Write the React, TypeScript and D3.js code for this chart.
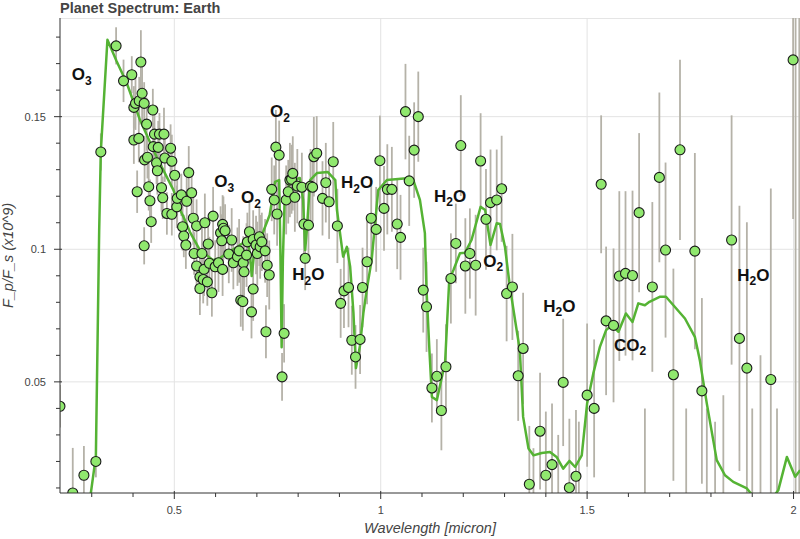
import React from "react";
import * as d3 from "d3";

const WIDTH = 800;
const HEIGHT = 539;
const PLOT = { left: 60, right: 800, top: 18, bottom: 493 };
const X_DOMAIN: [number, number] = [0.2231, 2.0157];
const Y_DOMAIN: [number, number] = [0.0081, 0.1872];

const wavelength = [
  0.223, 0.254, 0.281, 0.310, 0.322, 0.359, 0.377, 0.397, 0.402, 0.402,
  0.406, 0.410, 0.414, 0.415, 0.419, 0.422, 0.427, 0.427, 0.428, 0.433,
  0.435, 0.438, 0.441, 0.444, 0.448, 0.449, 0.452, 0.457, 0.459, 0.461,
  0.464, 0.469, 0.472, 0.475, 0.477, 0.482, 0.491, 0.494, 0.494, 0.501,
  0.506, 0.507, 0.517, 0.520, 0.523, 0.528, 0.530, 0.535, 0.542, 0.546,
  0.548, 0.554, 0.554, 0.562, 0.562, 0.567, 0.570, 0.572, 0.574, 0.580,
  0.582, 0.585, 0.591, 0.594, 0.599, 0.607, 0.612, 0.615, 0.617, 0.617,
  0.619, 0.623, 0.632, 0.639, 0.643, 0.653, 0.657, 0.661, 0.666, 0.667,
  0.669, 0.675, 0.677, 0.682, 0.687, 0.691, 0.691, 0.698, 0.701, 0.706,
  0.708, 0.712, 0.720, 0.722, 0.725, 0.730, 0.736, 0.742, 0.746, 0.749,
  0.754, 0.761, 0.766, 0.771, 0.776, 0.780, 0.784, 0.787, 0.792, 0.798,
  0.809, 0.814, 0.817, 0.825, 0.830, 0.835, 0.838, 0.845, 0.859, 0.867,
  0.875, 0.885, 0.895, 0.903, 0.911, 0.922, 0.930, 0.939, 0.950, 0.956,
  0.967, 0.977, 0.989, 0.998, 1.008, 1.016, 1.027, 1.040, 1.048, 1.060,
  1.069, 1.081, 1.091, 1.103, 1.111, 1.124, 1.136, 1.147, 1.158, 1.170,
  1.182, 1.194, 1.205, 1.216, 1.230, 1.242, 1.255, 1.266, 1.281, 1.293,
  1.305, 1.319, 1.333, 1.345, 1.360, 1.386, 1.400, 1.415, 1.442, 1.457,
  1.473, 1.500, 1.517, 1.534, 1.546, 1.564, 1.578, 1.593, 1.610, 1.626,
  1.658, 1.675, 1.690, 1.709, 1.725, 1.761, 1.778, 1.850, 1.869, 1.887,
  1.945, 1.999, 1.370, 1.430, 1.480, 1.640, 1.740, 1.790, 1.810, 1.830,
  1.900, 1.920, 1.960, 2.005, 2.014,
];

const flux = [
  0.0408, 0.0081, 0.0148, 0.0200, 0.1367, 0.1767, 0.1635, 0.1658, 0.1535, 0.1412,
  0.1550, 0.1217, 0.1418, 0.1560, 0.1706, 0.1588, 0.1550, 0.1013, 0.1337, 0.1472,
  0.1347, 0.1236, 0.1183, 0.1104, 0.1525, 0.1387, 0.1434, 0.1326, 0.1296, 0.1384,
  0.1434, 0.1232, 0.1194, 0.1434, 0.1344, 0.1135, 0.1381, 0.1332, 0.1132, 0.1279,
  0.1160, 0.1192, 0.1205, 0.1085, 0.1050, 0.1016, 0.1181, 0.1289, 0.1213, 0.1117,
  0.0984, 0.1088, 0.0937, 0.0896, 0.0852, 0.0984, 0.0886, 0.0924, 0.1100, 0.0877,
  0.1020, 0.0947, 0.0836, 0.1125, 0.0934, 0.0949, 0.1062, 0.1032, 0.1094, 0.0924,
  0.1079, 0.1070, 0.0982, 0.1035, 0.0949, 0.0972, 0.0994, 0.0808, 0.0803, 0.0949,
  0.0915, 0.0978, 0.1028, 0.1066, 0.0764, 0.1037, 0.0850, 0.1016, 0.0984, 0.1047,
  0.1009, 0.1028, 0.0994, 0.0689, 0.0940, 0.0903, 0.1226, 0.1186, 0.1385, 0.1133,
  0.1355, 0.0519, 0.0683, 0.1186, 0.1217, 0.1261, 0.1264, 0.1286, 0.1196, 0.1238,
  0.1234, 0.1095, 0.0966, 0.1091, 0.1238, 0.1234, 0.1349, 0.1362, 0.1192, 0.1251,
  0.1179, 0.1330, 0.1088, 0.0796, 0.0843, 0.0856, 0.0657, 0.0594, 0.0660, 0.0856,
  0.0953, 0.1117, 0.1075, 0.1334, 0.1154, 0.1226, 0.1226, 0.1095, 0.1045, 0.1519,
  0.1258, 0.1374, 0.1500, 0.0846, 0.0783, 0.0477, 0.0521, 0.0392, 0.0557, 0.0890,
  0.1022, 0.1391, 0.0937, 0.0984, 0.0940, 0.1333, 0.1113, 0.1176, 0.1186, 0.1228,
  0.0833, 0.0858, 0.0523, 0.0626, 0.0114, 0.0314, 0.0148, 0.0188, 0.0498, 0.0101,
  0.0144, 0.0450, 0.0400, 0.1245, 0.0730, 0.0713, 0.0899, 0.0909, 0.0901, 0.1138,
  0.0858, 0.1271, 0.0997, 0.0527, 0.1375, 0.0993, 0.0466, 0.1035, 0.0664, 0.0552,
  0.0509, 0.1714, -0.010, -0.010, -0.005, -0.010, -0.020, -0.010, -0.020, -0.015,
  -0.020, -0.010, -0.020, -0.100, -0.100,
];

const fluxErr = [
  0.008, 0.017, 0.011, 0.006, 0.007, 0.007, 0.008, 0.007, 0.008, 0.009,
  0.010, 0.008, 0.009, 0.009, 0.012, 0.012, 0.008, 0.007, 0.009, 0.010,
  0.008, 0.009, 0.008, 0.008, 0.008, 0.009, 0.010, 0.008, 0.009, 0.010,
  0.008, 0.009, 0.008, 0.010, 0.009, 0.008, 0.009, 0.010, 0.008, 0.009,
  0.008, 0.009, 0.008, 0.009, 0.008, 0.009, 0.009, 0.010, 0.009, 0.010,
  0.008, 0.010, 0.009, 0.009, 0.010, 0.010, 0.009, 0.010, 0.011, 0.009,
  0.010, 0.010, 0.009, 0.011, 0.010, 0.011, 0.010, 0.010, 0.011, 0.010,
  0.012, 0.010, 0.011, 0.012, 0.010, 0.011, 0.012, 0.010, 0.011, 0.010,
  0.011, 0.012, 0.011, 0.012, 0.010, 0.011, 0.012, 0.011, 0.012, 0.011,
  0.012, 0.011, 0.012, 0.010, 0.012, 0.013, 0.012, 0.013, 0.014, 0.012,
  0.013, 0.009, 0.011, 0.013, 0.012, 0.014, 0.013, 0.014, 0.013, 0.014,
  0.013, 0.014, 0.012, 0.013, 0.014, 0.013, 0.015, 0.014, 0.014, 0.015,
  0.014, 0.015, 0.014, 0.013, 0.014, 0.015, 0.013, 0.012, 0.013, 0.015,
  0.016, 0.015, 0.016, 0.017, 0.016, 0.017, 0.016, 0.017, 0.016, 0.018,
  0.017, 0.018, 0.017, 0.016, 0.017, 0.013, 0.014, 0.015, 0.016, 0.017,
  0.015, 0.019, 0.018, 0.017, 0.019, 0.018, 0.019, 0.020, 0.019, 0.020,
  0.018, 0.020, 0.017, 0.021, 0.022, 0.022, 0.024, 0.023, 0.024, 0.026,
  0.025, 0.027, 0.026, 0.026, 0.028, 0.029, 0.032, 0.031, 0.032, 0.030,
  0.032, 0.032, 0.033, 0.040, 0.034, 0.037, 0.035, 0.047, 0.050, 0.055,
  0.072, 0.060, 0.035, 0.040, 0.040, 0.050, 0.060, 0.050, 0.055, 0.060,
  0.060, 0.070, 0.060, 0.400, 0.400,
];

const modelWave = [
  0.290, 0.296, 0.310, 0.318, 0.322, 0.338, 0.360, 0.385, 0.417, 0.457,
  0.498, 0.514, 0.522, 0.538, 0.562, 0.594, 0.611, 0.628, 0.652, 0.676,
  0.683, 0.6875, 0.691, 0.695, 0.712, 0.731, 0.744, 0.754, 0.757, 0.760,
  0.763, 0.767, 0.780, 0.804, 0.812, 0.817, 0.821, 0.829, 0.846, 0.872,
  0.890, 0.894, 0.909, 0.918, 0.926, 0.934, 0.940, 0.950, 0.958, 0.966,
  0.978, 0.994, 1.015, 1.063, 1.079, 1.095, 1.107, 1.111, 1.118, 1.124,
  1.136, 1.156, 1.166, 1.176, 1.192, 1.204, 1.220, 1.242, 1.253, 1.266,
  1.281, 1.289, 1.301, 1.313, 1.328, 1.337, 1.345, 1.358, 1.370, 1.390,
  1.410, 1.426, 1.442, 1.457, 1.471, 1.487, 1.500, 1.515, 1.531, 1.546,
  1.560, 1.576, 1.594, 1.610, 1.624, 1.640, 1.651, 1.677, 1.691, 1.709,
  1.737, 1.761, 1.773, 1.790, 1.814, 1.834, 1.854, 1.887, 1.907, 1.943,
  1.963, 1.984, 2.004, 2.016,
];

const modelFlux = [
  0.000, 0.006, 0.022, 0.107, 0.137, 0.179, 0.171, 0.1626, 0.1487, 0.1349,
  0.1223, 0.1148, 0.1123, 0.1065, 0.0997, 0.0959, 0.0967, 0.0986, 0.1008, 0.1035,
  0.0990, 0.0899, 0.0950, 0.1015, 0.1053, 0.1129, 0.1254, 0.1261, 0.0997, 0.0631,
  0.0959, 0.1174, 0.1254, 0.1269, 0.1186, 0.0997, 0.1072, 0.1261, 0.1288, 0.1291,
  0.1261, 0.1148, 0.0972, 0.1009, 0.0934, 0.0759, 0.0552, 0.0638, 0.0759, 0.0846,
  0.0959, 0.1223, 0.1261, 0.1268, 0.1261, 0.1186, 0.1061, 0.0846, 0.0619, 0.0443,
  0.0431, 0.0574, 0.0884, 0.0921, 0.0985, 0.0987, 0.1035, 0.1160, 0.1148, 0.1016,
  0.1098, 0.1095, 0.1009, 0.0858, 0.0708, 0.0620, 0.0368, 0.0249, 0.0223, 0.0232,
  0.0236, 0.0217, 0.0173, 0.0202, 0.0179, 0.0223, 0.0418, 0.0532, 0.0632, 0.0695,
  0.0714, 0.0689, 0.0758, 0.0726, 0.0796, 0.0789, 0.0802, 0.0821, 0.0821, 0.0789,
  0.0739, 0.0670, 0.0582, 0.0418, 0.0205, 0.0148, 0.0123, 0.0098, 0.0060, 0.0050,
  0.0091, 0.0217, 0.0142, 0.0167,
];

const xMajorTicks = [0.5, 1, 1.5, 2];
const xMinorTicks = [0.3, 0.4, 0.6, 0.7, 0.8, 0.9, 1.1, 1.2, 1.3, 1.4, 1.6, 1.7, 1.8, 1.9];
const yMajorTicks = [0.05, 0.1, 0.15];
const yMinorTicks = [0.01, 0.02, 0.03, 0.04, 0.06, 0.07, 0.08, 0.09, 0.11, 0.12, 0.13, 0.14, 0.16, 0.17, 0.18];

const labelMain = ["O", "O", "O", "O", "H", "H", "H", "O", "H", "CO", "H"];
const labelSub = ["3", "2", "3", "2", "2", "2", "2", "2", "2", "2", "2"];
const labelTail = ["", "", "", "", "O", "O", "O", "", "O", "", "O"];
const labelWave = [0.2518, 0.7318, 0.5969, 0.6616, 0.9038, 0.7859, 1.1291, 1.2485, 1.3939, 1.5652, 1.8639];
const labelFlux = [0.1638, 0.1498, 0.1234, 0.1173, 0.1230, 0.0884, 0.1179, 0.0934, 0.0764, 0.0617, 0.0881];

const FONT = "'Liberation Sans', Arial, Helvetica, sans-serif";

export default function App() {
  const x = d3.scaleLinear().domain(X_DOMAIN).range([PLOT.left, PLOT.right]);
  const y = d3.scaleLinear().domain(Y_DOMAIN).range([PLOT.bottom, PLOT.top]);

  const points = wavelength.map((w, i) => ({ w, f: flux[i], e: fluxErr[i] }));
  const model = modelWave.map((w, i) => ({ w, f: modelFlux[i] }));
  const line = d3
    .line<{ w: number; f: number }>()
    .x((d) => x(d.w))
    .y((d) => y(d.f));

  const labels = labelMain.map((m, i) => ({
    main: m,
    sub: labelSub[i],
    tail: labelTail[i],
    w: labelWave[i],
    f: labelFlux[i],
  }));

  return (
    <div style={{ position: "absolute", left: 0, top: 0, width: WIDTH, height: HEIGHT, background: "#fff" }}>
      <svg width={WIDTH} height={HEIGHT} style={{ display: "block", fontFamily: FONT }}>
        <defs>
          <clipPath id="plotClip">
            <rect x={PLOT.left} y={PLOT.top} width={PLOT.right - PLOT.left} height={PLOT.bottom - PLOT.top} />
          </clipPath>
        </defs>

        {/* title */}
        <text x={60} y={12.5} fontSize={14.5} fontWeight="bold" fill="#444">
          Planet Spectrum: Earth
        </text>

        {/* frame outline */}
        <line x1={PLOT.left} x2={PLOT.right} y1={PLOT.top + 0.5} y2={PLOT.top + 0.5} stroke="#e5e5e5" strokeWidth={1} />

        {/* grid */}
        <g stroke="#e3e3e3" strokeWidth={1}>
          {xMajorTicks.map((t) => (
            <line key={"gx" + t} x1={x(t)} x2={x(t)} y1={PLOT.top} y2={PLOT.bottom} />
          ))}
          {yMajorTicks.map((t) => (
            <line key={"gy" + t} x1={PLOT.left} x2={PLOT.right} y1={y(t)} y2={y(t)} />
          ))}
        </g>

        <g clipPath="url(#plotClip)">
          {/* error bars */}
          <g stroke="#b5b2a8" strokeWidth={1.8}>
            {points.map((p, i) => (
              <line key={"e" + i} x1={x(p.w)} x2={x(p.w)} y1={y(p.f - p.e)} y2={y(p.f + p.e)} />
            ))}
          </g>
          {/* model line */}
          <path d={line(model) || ""} fill="none" stroke="#55b334" strokeWidth={2.5} strokeLinejoin="round" />
          {/* observations */}
          <g fill="#90e86e" stroke="#1a1a1a" strokeWidth={1.1}>
            {points.map((p, i) => (
              <circle key={"c" + i} cx={x(p.w)} cy={y(p.f)} r={5} />
            ))}
          </g>
        </g>

        {/* molecule labels */}
        <g fontWeight="bold" fill="#111">
          {labels.map((l, i) => (
            <text key={"l" + i} x={x(l.w)} y={y(l.f)} fontSize={17}>
              {l.main}
              <tspan fontSize={12} dy={4.5}>{l.sub}</tspan>
              {l.tail ? <tspan dy={-4.5}>{l.tail}</tspan> : null}
            </text>
          ))}
        </g>

        {/* axes */}
        <g stroke="#333" strokeWidth={1}>
          <line x1={PLOT.left} x2={PLOT.left} y1={PLOT.top} y2={PLOT.bottom} />
          <line x1={PLOT.left} x2={PLOT.right} y1={PLOT.bottom} y2={PLOT.bottom} />
          {xMajorTicks.map((t) => (
            <line key={"xt" + t} x1={x(t)} x2={x(t)} y1={PLOT.bottom - 2} y2={PLOT.bottom + 6} />
          ))}
          {xMinorTicks.map((t) => (
            <line key={"xm" + t} x1={x(t)} x2={x(t)} y1={PLOT.bottom} y2={PLOT.bottom + 4} />
          ))}
          {yMajorTicks.map((t) => (
            <line key={"yt" + t} x1={PLOT.left - 6} x2={PLOT.left + 2} y1={y(t)} y2={y(t)} />
          ))}
          {yMinorTicks.map((t) => (
            <line key={"ym" + t} x1={PLOT.left - 4} x2={PLOT.left} y1={y(t)} y2={y(t)} />
          ))}
        </g>

        <g fontSize={11} fill="#444">
          {xMajorTicks.map((t) => (
            <text key={"xl" + t} x={x(t)} y={514} textAnchor="middle">
              {String(t)}
            </text>
          ))}
          {yMajorTicks.map((t) => (
            <text key={"yl" + t} x={46} y={y(t) + 4} textAnchor="end">
              {String(t)}
            </text>
          ))}
        </g>

        <text x={(PLOT.left + PLOT.right) / 2} y={533} textAnchor="middle" fontSize={14.5} fontStyle="italic" fill="#444">
          Wavelength [micron]
        </text>
        <text
          transform={`translate(12.5, ${(PLOT.top + PLOT.bottom) / 2}) rotate(-90)`}
          textAnchor="middle"
          fontSize={14.5}
          fontStyle="italic"
          fill="#444"
        >
          F_p/F_s (x10^9)
        </text>
      </svg>
    </div>
  );
}
